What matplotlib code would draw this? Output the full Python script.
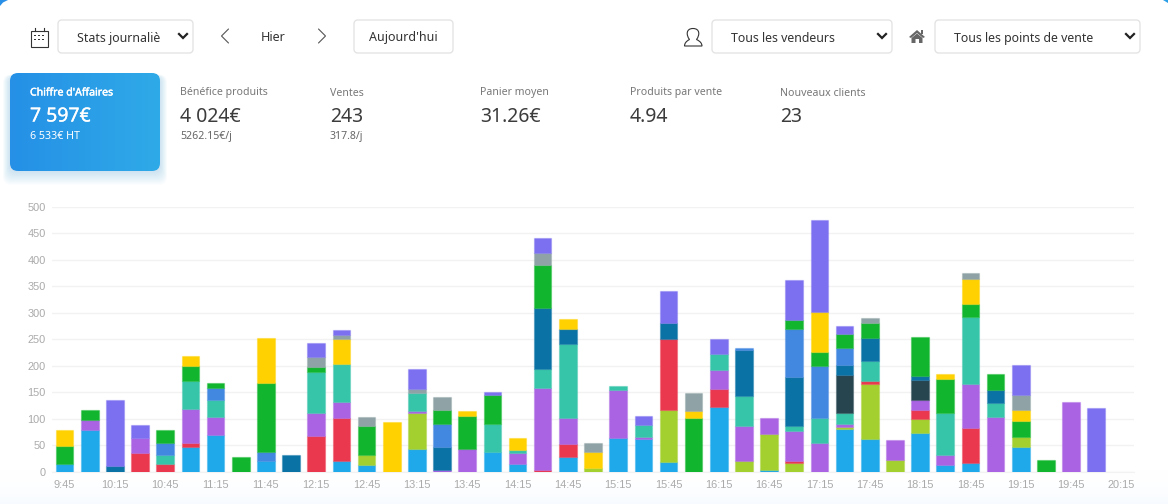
import matplotlib
matplotlib.use("Agg")
import matplotlib.pyplot as plt
import matplotlib.patheffects as pe
from matplotlib.colors import to_rgba
import numpy as np
from matplotlib.patches import FancyBboxPatch, Rectangle, Polygon, PathPatch
from matplotlib.path import Path

# values per time slot, bottom to top of the stack
sky = [14,79,0,0,0,47,69,0,20,0, 0,20,13,0,43,0,0,38,15,0, 28,0,64,61,18,0,123,0,4,0, 0,80,62,0,73,13,16,0,47,0, 0,0,0]
lime = [0,0,0,0,0,0,0,0,0,0, 0,0,18,0,68,0,0,0,0,0, 0,7,0,0,98,0,0,21,67,16, 0,4,104,22,27,0,0,0,18,0, 0,0,0]
red = [0,0,0,35,15,7,0,0,0,0, 68,82,0,0,0,0,0,0,0,4, 24,0,0,0,134,0,33,0,0,5, 0,0,5,0,17,0,66,0,0,0, 0,0,0]
purple = [0,19,0,28,0,65,35,0,0,0, 42,29,0,0,3,4,42,0,21,155, 49,0,91,4,0,0,37,66,31,55, 54,7,0,37,18,19,83,103,0,0, 131,0,0]
teal = [0,0,0,0,16,53,31,0,0,0, 78,72,0,0,34,0,0,52,5,35, 140,0,7,23,0,0,29,56,0,10, 47,19,38,0,0,78,127,26,0,0, 0,0,0]
dark = [0,0,0,0,0,0,0,0,0,0, 0,0,0,0,0,0,0,0,0,0, 0,0,0,0,0,0,0,0,0,0, 0,73,0,0,39,0,0,0,0,0, 0,0,0]
dkblue = [0,0,10,0,0,0,0,0,0,31, 0,0,0,0,0,43,0,0,0,116, 29,0,0,0,31,0,0,86,0,93, 0,19,43,0,6,0,0,26,0,0, 0,0,0]
blue = [0,0,0,0,24,0,24,0,18,0, 0,0,0,0,0,44,0,0,0,0, 0,0,0,0,0,0,0,4,0,91, 98,31,0,0,0,0,0,0,0,0, 0,0,0]
green = [35,18,0,0,24,28,8,28,130,0, 9,0,56,0,0,25,64,54,0,81, 0,0,0,0,0,101,0,0,0,17, 27,28,29,0,75,66,24,29,31,22, 0,0,0]
yellow = [29,0,0,0,0,19,0,0,85,0, 0,48,0,93,0,0,8,0,22,0, 19,31,0,0,0,14,0,0,0,0, 75,0,0,0,0,8,48,0,21,0, 0,0,0]
gray = [0,0,0,0,0,0,0,0,0,0, 19,7,16,0,8,25,0,0,0,22, 0,17,0,0,0,34,0,0,0,0, 0,0,9,0,0,0,12,0,28,0, 0,0,0]
violet = [0,0,125,26,0,0,0,0,0,0, 27,9,0,0,38,0,0,6,0,29, 0,0,0,18,60,0,28,0,0,75, 175,14,0,0,0,0,0,0,56,0, 0,120,0]

series = [sky, lime, red, purple, teal, dark, dkblue, blue, green, yellow, gray, violet]
colors = ["#1fa9ea", "#a3d02e", "#ea384f", "#a963e3", "#37c5a9", "#27454f",
          "#0b72a5", "#4287e0", "#12b52e", "#ffd100", "#8fa3a6", "#7c70f0"]
time_labels = ["9:45", "10:15", "10:45", "11:15", "11:45", "12:15", "12:45", "13:15",
               "13:45", "14:15", "14:45", "15:15", "15:45", "16:15", "16:45", "17:15",
               "17:45", "18:15", "18:45", "19:15", "19:45", "20:15"]
y_ticks = [0, 50, 100, 150, 200, 250, 300, 350, 400, 450, 500]

stat_labels = ["Bénéfice produits", "Ventes", "Panier moyen", "Produits par vente", "Nouveaux clients"]
stat_values = ["4 024€", "243", "31.26€", "4.94", "23"]
stat_subs = ["5262.15€/j", "317.8/j", "", "", ""]

UI_FONT = "Noto Sans"
W, H = 1168, 504


def box(ax, x0, y0, x1, y1, r, **kw):
    p = FancyBboxPatch((x0 + r, y0 + r), x1 - x0 - 2 * r, y1 - y0 - 2 * r,
                       boxstyle="round,pad=%f,rounding_size=%f" % (r, r), **kw)
    ax.add_patch(p)
    return p


def chevron(ax, x, y, w, h, color, lw):
    # w > 0 points left, w < 0 points right
    ax.plot([x + w, x - w, x + w], [y - h, y, y + h], color=color, lw=lw,
            solid_capstyle="round", solid_joinstyle="miter")


def down_arrow(ax, x, y):
    ax.plot([x - 4, x, x + 4], [y - 2, y + 2, y - 2], color="#222222", lw=1.6,
            solid_joinstyle="miter")


def draw_select(ax, x0, x1, label, text_x):
    box(ax, x0, 20, x1, 53, 4, fc="white", ec="#e4e4e4", lw=1)
    ax.text(text_x, 42, label, fontsize=8.9, color="#333333", family=UI_FONT, va="baseline")
    down_arrow(ax, x1 - 10, 36)


def draw_ui(ax):
    # page background, faint blue at the bottom, small blue corners
    grad = np.linspace(0, 1, 60)[:, None]
    bg = np.ones((60, 1, 3))
    bg[:, 0, 0] = 1 - 0.03 * grad[:, 0] ** 2
    bg[:, 0, 1] = 1 - 0.015 * grad[:, 0] ** 2
    ax.imshow(bg, extent=(0, W, 504, 470), aspect="auto", zorder=0)
    ax.add_patch(Polygon([(0, 0), (8, 0), (3, 2.5), (0, 6)], fc="#2a8fe6", ec="none", zorder=1))
    ax.add_patch(Polygon([(1163, 0), (1168, 0), (1168, 2.5)], fc="#2a9ee6", ec="none", zorder=1))

    # calendar icon
    ax.add_patch(Rectangle((30.5, 30.5), 17, 16, fc="none", ec="#333333", lw=0.8))
    ax.plot([34.5, 34.5], [28, 31], color="#333333", lw=0.8)
    ax.plot([43.5, 43.5], [28, 31], color="#333333", lw=0.8)
    for dx in (35, 39, 43):
        for dy in (35.5, 39.5):
            ax.add_patch(Rectangle((dx - 0.8, dy - 0.8), 1.6, 1.6, fc="#333333", ec="none"))

    draw_select(ax, 58, 193, "Stats journaliè", 77)
    chevron(ax, 225, 36, 3.5, 7, "#555555", 0.8)
    ax.text(273.5, 41, "Hier", fontsize=9.0, color="#333333", family=UI_FONT, ha="center", va="baseline")
    chevron(ax, 322, 36, -3.5, 7, "#555555", 0.8)
    box(ax, 354, 20, 453, 53, 4, fc="white", ec="#e4e4e4", lw=1)
    ax.text(403.5, 41, "Aujourd'hui", fontsize=9.0, color="#333333", family=UI_FONT, ha="center", va="baseline")

    # user icon
    verts = [(684.5, 46), (702, 46), (702, 42), (696.5, 39.5), (700, 35), (700, 28.5), (693, 28.5),
             (686, 28.5), (686, 35), (689.5, 39.5), (684.5, 42), (684.5, 46), (684.5, 46)]
    codes = [Path.MOVETO, Path.LINETO, Path.CURVE3, Path.CURVE3, Path.CURVE4, Path.CURVE4, Path.CURVE4,
             Path.CURVE4, Path.CURVE4, Path.CURVE4, Path.CURVE3, Path.CURVE3, Path.CLOSEPOLY]
    ax.add_patch(PathPatch(Path(verts, codes), fc="none", ec="#333333", lw=0.8))
    draw_select(ax, 712, 892, "Tous les vendeurs", 731)

    # home icon
    ax.add_patch(Polygon([(909, 37), (917, 30), (925, 37), (923, 38), (917, 33), (911, 38)], fc="#666666", ec="none"))
    ax.add_patch(Polygon([(911.5, 38), (917, 33.5), (922.5, 38), (922.5, 43), (919, 43), (919, 39),
                          (915.5, 39), (915.5, 43), (911.5, 43)], fc="#666666", ec="none"))
    ax.add_patch(Rectangle((920.5, 30), 2, 4, fc="#666666", ec="none"))
    draw_select(ax, 935, 1140, "Tous les points de vente", 954)

    # blue card with soft shadow
    for i in range(14, 0, -1):
        box(ax, 10 - i * 0.5, 76 - i * 0.1, 160 + i * 0.5, 171 + i * 1.0, 8,
            fc="#2a9fe8", ec="none", alpha=0.016)
    card = box(ax, 10, 73, 160, 171, 8, fc="none", ec="none")
    grad = np.linspace(0, 1, 100)[None, :]
    r = 0x25 + (0x2f - 0x25) * grad
    g = 0x90 + (0xaa - 0x90) * grad
    b = 0xe6 + 2 * grad
    img = np.dstack([r / 255, g / 255, b / 255])
    im = ax.imshow(img, extent=(10, 160, 171, 73), aspect="auto", zorder=1)
    im.set_clip_path(card)
    ax.text(30, 95.5, "Chiffre d'Affaires", fontsize=7.6, color="white", family=UI_FONT,
            va="baseline", zorder=2, path_effects=[pe.withStroke(linewidth=0.3, foreground="white")])
    ax.text(30, 121.5, "7 597€", fontsize=14, color="white", family=UI_FONT,
            va="baseline", zorder=2, path_effects=[pe.withStroke(linewidth=0.2, foreground="white")])
    ax.text(30, 139, "6 533€ HT", fontsize=7.7, color="white", family=UI_FONT, va="baseline", zorder=2)

    for i in range(len(stat_labels)):
        sx = 180 + 150 * i
        ax.text(sx, 95.5, stat_labels[i], fontsize=7.6, color="#777777", family=UI_FONT, va="baseline")
        ax.text(sx, 121.5, stat_values[i], fontsize=14, color="#3c3c3c", family=UI_FONT, va="baseline")
        if stat_subs[i]:
            ax.text(sx, 139, stat_subs[i], fontsize=7.6, color="#666666", family=UI_FONT, va="baseline")


def main():
    fig = plt.figure(figsize=(W / 100, H / 100), dpi=100, facecolor="white")

    ui = fig.add_axes([0, 0, 1, 1])
    draw_ui(ui)
    ui.set_xlim(0, W)
    ui.set_ylim(H, 0)
    ui.axis("off")

    left, right, top, bottom = 52, 1134, 207, 471.7
    ax = fig.add_axes([left / W, 1 - bottom / H, (right - left) / W, (bottom - top) / H])
    ax.patch.set_alpha(0)

    x = np.arange(len(sky))
    base = np.zeros(len(sky))
    for values, color in zip(series, colors):
        values = np.array(values)
        # empty segments are skipped, their edges would show as lines otherwise
        keep = values > 0
        ax.bar(x[keep], values[keep], width=0.70, bottom=base[keep], color=color,
               edgecolor=to_rgba(color, 0.35), linewidth=0.9, zorder=3)
        base = base + values

    ax.set_xlim(-0.5, 42.5)
    ax.set_ylim(0, 500)
    ax.set_xticks(range(0, 43, 2))
    ax.set_xticklabels(time_labels, family="Liberation Sans", fontsize=7.9, color="#aaaaaa")
    ax.set_yticks(y_ticks)
    ax.set_yticklabels(y_ticks, family="Liberation Sans", fontsize=7.9, color="#aaaaaa")
    ax.tick_params(axis="both", length=0)
    ax.tick_params(axis="x", pad=6)
    ax.tick_params(axis="y", pad=4.5)
    ax.grid(axis="y", color="#f2f2f2", linewidth=1, zorder=0)
    ax.set_axisbelow(True)
    for side in ax.spines.values():
        side.set_visible(False)
    ax.spines["bottom"].set_visible(True)
    ax.spines["bottom"].set_color("#f2f2f2")

    plt.savefig("out.png", dpi=100)


if __name__ == '__main__':
    main()
